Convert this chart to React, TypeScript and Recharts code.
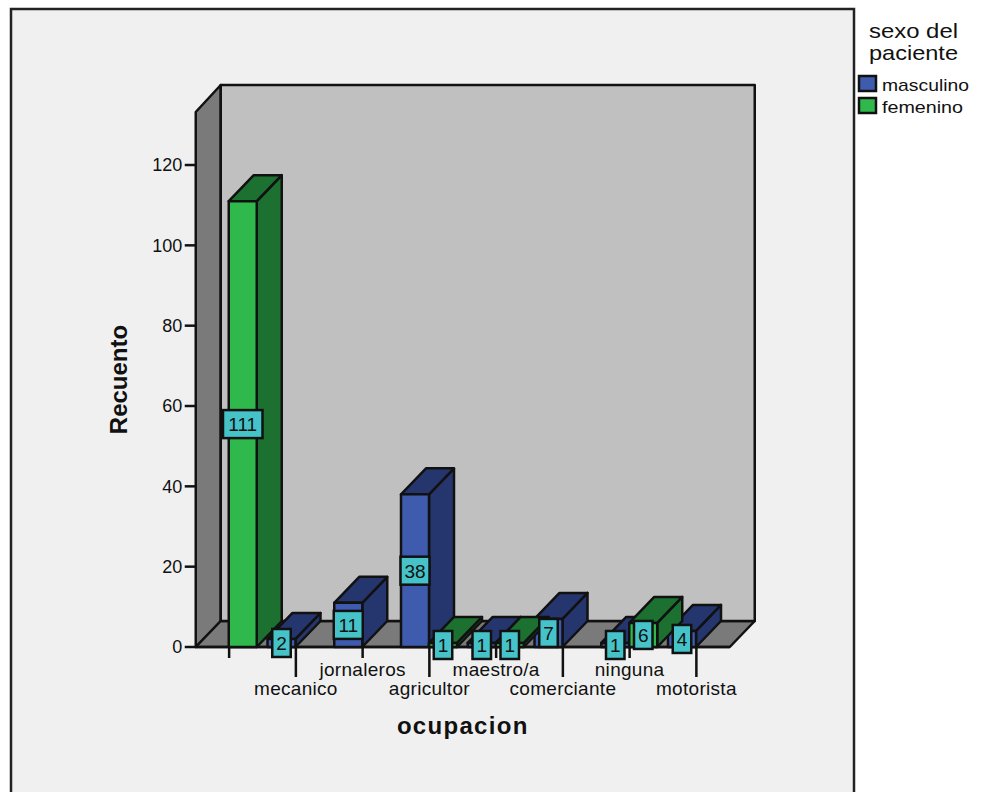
import { BarChart, Bar, XAxis, YAxis, LabelList, usePlotArea } from 'recharts'

const occupations = ['', 'mecanico', 'jornaleros', 'agricultor', 'maestro/a', 'comerciante', 'ninguna', 'motorista']
const masculino = [null, 2, 11, 38, 1, 7, 1, 4]
const femenino = [111, null, null, 1, 1, null, 6, null]
const countTicks = [0, 20, 40, 60, 80, 100, 120]
const legendTitle = ['sexo del', 'paciente']
const seriesNames = ['masculino', 'femenino']

const chartData = occupations.map((name, i) => ({
  name,
  masculino: masculino[i],
  femenino: femenino[i],
}))

const FONT = '"Liberation Sans", Arial, sans-serif'
const INK = '#111'
const DEPTH_X = 25
const DEPTH_Y = 26
const PANEL = '#f0f0f0'
const BACK_WALL = '#c0c0c0'
const SIDE_WALL = '#7a7a7a'
const BLUE = { front: '#3f5bad', shade: '#25366e' }
const GREEN = { front: '#2fb84c', shade: '#1c7030' }
const LABEL_BG = '#45c3c8'
const lineProps = { stroke: INK, strokeWidth: 2.5, strokeLinejoin: 'round' as const }

function pts(list: number[][]) {
  return list.map((p) => p.join(',')).join(' ')
}

// panel frame, the three walls of the box and the legend
function ChartBackdrop() {
  const area = usePlotArea()
  if (!area) return null
  const { x, y, width, height } = area
  const bottom = y + height
  const right = x + width
  return (
    <g>
      <rect x={11} y={9} width={843} height={800} fill={PANEL} stroke="#222" strokeWidth={2.5} />
      <polygon
        points={pts([[x, y], [x + DEPTH_X, y - DEPTH_Y - 1], [x + DEPTH_X, bottom - DEPTH_Y], [x, bottom]])}
        fill={SIDE_WALL}
        {...lineProps}
      />
      <polygon
        points={pts([[x, bottom], [right, bottom], [right + DEPTH_X, bottom - DEPTH_Y], [x + DEPTH_X, bottom - DEPTH_Y]])}
        fill={SIDE_WALL}
        {...lineProps}
      />
      <rect
        x={x + DEPTH_X}
        y={y - DEPTH_Y - 1}
        width={width}
        height={height + 1}
        fill={BACK_WALL}
        {...lineProps}
      />
      <line x1={x} y1={bottom} x2={right} y2={bottom} {...lineProps} />

      {legendTitle.map((t, i) => (
        <text key={t} x={869} y={38 + i * 22} fontFamily={FONT} fontSize={21} fill={INK} textLength={89} lengthAdjust="spacingAndGlyphs">
          {t}
        </text>
      ))}
      {seriesNames.map((s, i) => (
        <g key={s}>
          <rect x={859} y={76 + i * 22} width={17} height={15} fill={i ? GREEN.front : BLUE.front} stroke={INK} strokeWidth={2.5} />
          <text x={882} y={91 + i * 22} fontFamily={FONT} fontSize={17} fill={INK} textLength={i ? 81 : 87} lengthAdjust="spacingAndGlyphs">
            {s}
          </text>
        </g>
      ))}
    </g>
  )
}

function Bar3D(props: any) {
  const { x, y, width, height, colors } = props
  if (!height || height <= 0) return null
  const r = x + width
  const b = y + height
  return (
    <g>
      <polygon points={pts([[r, y], [r + DEPTH_X, y - DEPTH_Y], [r + DEPTH_X, b - DEPTH_Y], [r, b]])} fill={colors.shade} {...lineProps} />
      <polygon points={pts([[x, y], [r, y], [r + DEPTH_X, y - DEPTH_Y], [x + DEPTH_X, y - DEPTH_Y]])} fill={colors.shade} {...lineProps} />
      <rect x={x} y={y} width={width} height={height} fill={colors.front} {...lineProps} />
    </g>
  )
}

function ValueTag(props: any) {
  const { x, y, width, height, value } = props
  if (value == null) return null
  const w = String(value).length * 10.5 + 8
  const h = 28
  const cx = x + width / 2
  const cy = y + height / 2
  return (
    <g>
      <rect x={cx - w / 2} y={cy - h / 2} width={w} height={h} fill={LABEL_BG} stroke={INK} strokeWidth={2.5} />
      <text x={cx} y={cy + 7} textAnchor="middle" fontFamily={FONT} fontSize={19} fill={INK}>
        {value}
      </text>
    </g>
  )
}

// labels alternate between two rows, the tick line reaches down to its row
function OccupationTick(props: any) {
  const { x, y, payload, index } = props
  const low = index % 2 === 1
  return (
    <g>
      <line x1={x} y1={y} x2={x} y2={y + (low ? 30 : 11)} stroke={INK} strokeWidth={2.5} />
      <text x={x} y={y + (low ? 48 : 29)} textAnchor="middle" fontFamily={FONT} fontSize={19} fill={INK} letterSpacing={0.3}>
        {payload.value}
      </text>
    </g>
  )
}

export default function App() {
  return (
    <div style={{ position: 'absolute', left: 0, top: 0, width: 983, height: 792, background: '#fff', overflow: 'hidden' }}>
      <BarChart
        width={983}
        height={792}
        data={chartData}
        margin={{ top: 112, right: 253.25, bottom: 0, left: 0.75 }}
        barSize={28}
        barGap={0}
        barCategoryGap={0}
      >
        <ChartBackdrop />
        <XAxis
          dataKey="name"
          height={145}
          axisLine={false}
          tickLine={false}
          tickSize={0}
          tickMargin={0}
          interval={0}
          tick={<OccupationTick />}
          label={{ value: 'ocupacion', position: 'insideBottom', offset: 58, fontFamily: FONT, fontSize: 24, fontWeight: 700, fill: INK, letterSpacing: 1.3 }}
        />
        <YAxis
          width={195}
          domain={[0, 133.2]}
          ticks={countTicks}
          axisLine={false}
          tickSize={11}
          tickMargin={2.5}
          tickLine={{ stroke: INK, strokeWidth: 2.5 }}
          tick={{ fontFamily: FONT, fontSize: 18, fill: INK }}
          label={{ value: 'Recuento', angle: -90, position: 'insideLeft', offset: 118, textAnchor: 'middle', fontFamily: FONT, fontSize: 24, fontWeight: 700, fill: INK }}
        />
        <Bar dataKey="masculino" isAnimationActive={false} shape={<Bar3D colors={BLUE} />}>
          <LabelList dataKey="masculino" content={<ValueTag />} />
        </Bar>
        <Bar dataKey="femenino" isAnimationActive={false} shape={<Bar3D colors={GREEN} />}>
          <LabelList dataKey="femenino" content={<ValueTag />} />
        </Bar>
      </BarChart>
    </div>
  )
}
